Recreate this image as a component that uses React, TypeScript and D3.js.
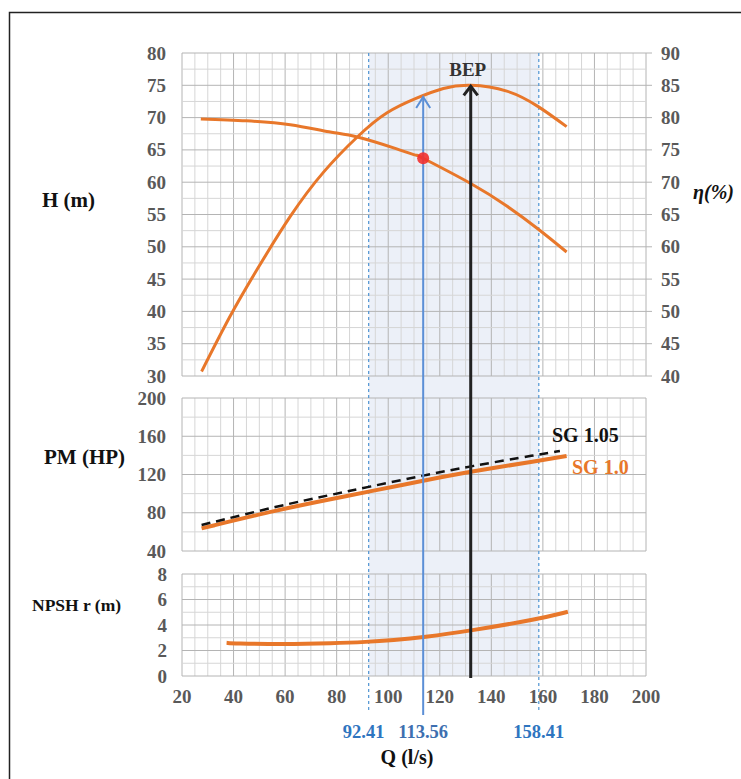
import React from "react";
import * as d3 from "d3";

// ---- data ----
const qHead = [27.3, 45, 62, 77, 88, 103, 111, 113.56, 132, 146, 158, 169.2];
const head = [69.8, 69.5, 68.9, 67.8, 67.0, 65.2, 64.15, 63.7, 59.8, 56.3, 52.8, 49.2];

const qEff = [27.6, 38.6, 49, 62, 75, 88, 99.4, 111, 121.4, 132, 146, 158.2, 169.2];
const eff = [40.7, 49.2, 56.4, 64.7, 71.6, 77.0, 80.7, 83.0, 84.5, 85.0, 84.1, 81.7, 78.6];

const qPm = [27.6, 58, 77.4, 92.3, 113.6, 131.7, 158.6, 169.2];
const pmSg10 = [63.7, 83.5, 94.0, 102.0, 113.5, 123.0, 134.5, 139.3];

const qPm105 = [27.6, 58, 77.4, 92.3, 113.6, 131.7, 158.6, 166.6];
const pmSg105 = [67.2, 87.5, 98.5, 107.0, 119.0, 128.5, 141.0, 144.6];

const qNpsh = [37.3, 39.9, 59, 78.6, 91.6, 102, 113.4, 132, 158.4, 169.7];
const npsh = [2.6, 2.56, 2.48, 2.56, 2.67, 2.82, 3.03, 3.55, 4.47, 5.04];

const qTicks = [20, 40, 60, 80, 100, 120, 140, 160, 180, 200];
const hTicks = [30, 35, 40, 45, 50, 55, 60, 65, 70, 75, 80];
const effTicks = [40, 45, 50, 55, 60, 65, 70, 75, 80, 85, 90];
const pmTicks = [40, 80, 120, 160, 200];
const npshTicks = [0, 2, 4, 6, 8];

const qLow = 92.41;
const qOp = 113.56;
const qHigh = 158.41;
const qBep = 132;
const hOp = 63.7;
const effOp = 83.2;
const effBep = 85.0;

const ORANGE = "#E8772A";
const GRAY = "#595959";
const BLUE_TXT = "#2E75C0";
const SERIF = "'Liberation Serif', 'Times New Roman', serif";

export default function App() {
  const x = d3.scaleLinear().domain([20, 200]).range([182, 646]);
  const yH = d3.scaleLinear().domain([30, 80]).range([376, 53]);
  const yE = d3.scaleLinear().domain([40, 90]).range([376, 53]);
  const yP = d3.scaleLinear().domain([40, 200]).range([551, 398]);
  const yN = d3.scaleLinear().domain([0, 8]).range([676, 574]);

  const mk = (
    xs: number[],
    ys: number[],
    y: d3.ScaleLinear<number, number>,
    curve: d3.CurveFactory
  ) =>
    d3
      .line<number>()
      .x((_, i) => x(xs[i]))
      .y((v) => y(v))
      .curve(curve)(ys) as string;

  const qMinor = d3.range(20, 200.1, 5);

  const panel = (
    key: string,
    y: d3.ScaleLinear<number, number>,
    step: number,
    majorEvery: number
  ) => {
    const [d0, d1] = y.domain();
    const hs = d3.range(d0, d1 + step / 2, step);
    return (
      <g key={key}>
        {qMinor.map((q) => (
          <line
            key={"v" + q}
            x1={x(q)}
            x2={x(q)}
            y1={y(d1)}
            y2={y(d0)}
            stroke={q % 20 === 0 ? "#b4b4b4" : "#d6d6d6"}
            strokeWidth={1}
          />
        ))}
        {hs.map((v, i) => (
          <line
            key={"h" + v}
            x1={x(20)}
            x2={x(200)}
            y1={y(v)}
            y2={y(v)}
            stroke={i % majorEvery === 0 ? "#b4b4b4" : "#d6d6d6"}
            strokeWidth={1}
          />
        ))}
      </g>
    );
  };

  const txt = {
    fontFamily: SERIF,
    fontWeight: 700 as const,
  };

  return (
    <svg
      width={741}
      height={779}
      style={{ position: "absolute", left: 0, top: 0, background: "#fff" }}
    >
      <rect x={9.5} y={12.5} width={740} height={780} fill="#fff" stroke="#222" strokeWidth={1.5} />

      {/* operating range shading */}
      <rect
        x={x(qLow)}
        y={yH(80)}
        width={x(qHigh) - x(qLow)}
        height={yN(0) - yH(80)}
        fill="#ECF0F8"
      />

      {panel("top", yH, 2.5, 2)}
      {panel("mid", yP, 20, 2)}
      {panel("bot", yN, 1, 2)}

      {/* right tick stubs */}
      {effTicks.map((v) => (
        <line key={"rt" + v} x1={x(200)} x2={x(200) + 6} y1={yE(v)} y2={yE(v)} stroke="#b4b4b4" />
      ))}

      {/* dotted range lines */}
      {[qLow, qHigh].map((q) => (
        <line
          key={"d" + q}
          x1={x(q)}
          x2={x(q)}
          y1={yH(80)}
          y2={712}
          stroke="#5B9BD5"
          strokeWidth={1.3}
          strokeDasharray="3,3"
        />
      ))}

      {/* curves */}
      <path d={mk(qHead, head, yH, d3.curveNatural)} fill="none" stroke={ORANGE} strokeWidth={3} />
      <path d={mk(qEff, eff, yE, d3.curveNatural)} fill="none" stroke={ORANGE} strokeWidth={3} />
      <path d={mk(qPm, pmSg10, yP, d3.curveBasis)} fill="none" stroke={ORANGE} strokeWidth={4} />
      <path
        d={mk(qPm105, pmSg105, yP, d3.curveBasis)}
        fill="none"
        stroke="#111"
        strokeWidth={2.5}
        strokeDasharray="9,6"
      />
      <path d={mk(qNpsh, npsh, yN, d3.curveBasis)} fill="none" stroke={ORANGE} strokeWidth={4} />

      {/* operating point line with arrow */}
      <line x1={x(qOp)} x2={x(qOp)} y1={715} y2={yE(effOp)} stroke="#5B8FD6" strokeWidth={2} />
      <path
        d={`M${x(qOp) - 7},${yE(effOp) + 11} L${x(qOp)},${yE(effOp)} L${x(qOp) + 7},${yE(effOp) + 11}`}
        fill="none"
        stroke="#5B8FD6"
        strokeWidth={2}
      />
      <circle cx={x(qOp)} cy={yH(hOp)} r={6} fill="#F2302E" opacity={0.9} />

      {/* BEP line with arrow */}
      <line x1={x(qBep)} x2={x(qBep)} y1={678} y2={yE(effBep) + 1} stroke="#222" strokeWidth={3} />
      <path
        d={`M${x(qBep) - 7},${yE(effBep) + 10} L${x(qBep)},${yE(effBep) + 1} L${x(qBep) + 7},${yE(effBep) + 10}`}
        fill="none"
        stroke="#222"
        strokeWidth={3}
      />
      <text x={x(qBep) - 3} y={76} textAnchor="middle" fontSize={19} fill="#333" style={txt}>
        BEP
      </text>

      {/* axis tick labels */}
      {hTicks.map((v) => (
        <text key={"hl" + v} x={166} y={yH(v) + 6.5} textAnchor="end" fontSize={19} fill={GRAY} style={txt}>
          {v}
        </text>
      ))}
      {effTicks.map((v) => (
        <text key={"el" + v} x={661} y={yE(v) + 6.5} textAnchor="start" fontSize={19} fill={GRAY} style={txt}>
          {v}
        </text>
      ))}
      {pmTicks.map((v) => (
        <text key={"pl" + v} x={166} y={yP(v) + 6.5} textAnchor="end" fontSize={19} fill={GRAY} style={txt}>
          {v}
        </text>
      ))}
      {npshTicks.map((v) => (
        <text key={"nl" + v} x={167} y={yN(v) + 6.5} textAnchor="end" fontSize={19} fill={GRAY} style={txt}>
          {v}
        </text>
      ))}
      {qTicks.map((v) => (
        <text key={"ql" + v} x={x(v)} y={703} textAnchor="middle" fontSize={19} fill={GRAY} style={txt}>
          {v}
        </text>
      ))}

      {/* range labels */}
      <text x={x(qLow) - 5} y={738} textAnchor="middle" fontSize={18.5} fill={BLUE_TXT} style={txt}>
        92.41
      </text>
      <text x={x(qOp)} y={738} textAnchor="middle" fontSize={18.5} fill="#3D6FB0" style={txt}>
        113.56
      </text>
      <text x={x(qHigh)} y={738} textAnchor="middle" fontSize={18.5} fill={BLUE_TXT} style={txt}>
        158.41
      </text>
      <text x={407} y={764} textAnchor="middle" fontSize={20} fill="#111" style={txt}>
        Q (l/s)
      </text>

      {/* axis titles */}
      <text x={42} y={207} fontSize={21} fill="#111" style={txt}>
        H (m)
      </text>
      <text x={693} y={199} fontSize={20} fill="#111" style={{ ...txt, fontStyle: "italic" }}>
        η(%)
      </text>
      <text x={44} y={464} fontSize={21} fill="#111" style={txt}>
        PM (HP)
      </text>
      <text x={32} y={611} fontSize={17.5} fill="#111" style={txt}>
        NPSH r (m)
      </text>

      {/* legend labels */}
      <text x={552} y={442} fontSize={20} fill="#111" style={txt}>
        SG 1.05
      </text>
      <text x={572} y={474} fontSize={20} fill={ORANGE} style={txt}>
        SG 1.0
      </text>
    </svg>
  );
}
